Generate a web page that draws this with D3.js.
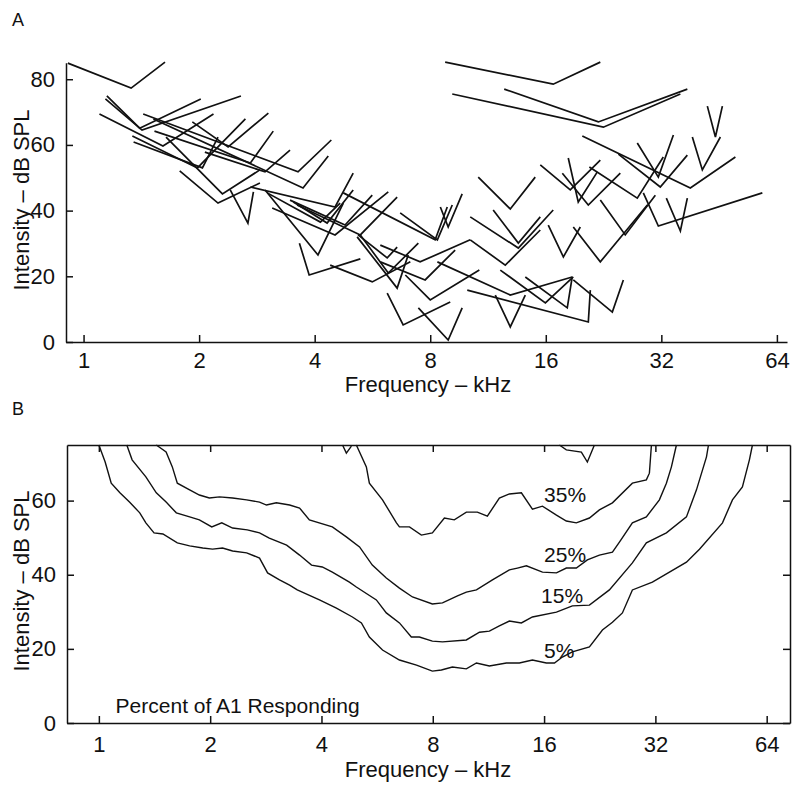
<!DOCTYPE html>
<html>
<head>
<meta charset="utf-8">
<script src="https://cdn.jsdelivr.net/npm/d3@7"></script>
<style>
  body { margin: 0; background: #fff; }
  text { font-family: "Liberation Sans", Arial, sans-serif; fill: #111; }
</style>
</head>
<body>
<div id="chart"></div>
<script>
// Panel A: single-unit tuning curves, each [left arm end, tip, right arm end] as [kHz, dB SPL]
const tuningCurves = [
  [[0.91,84.9],[1.33,77.3],[1.63,85.2]],
  [[1.15,74.9],[1.40,65.1],[2.02,74.0]],
  [[1.14,74.0],[1.42,64.5],[2.57,74.9]],
  [[1.10,69.4],[1.61,59.7],[2.18,69.4]],
  [[1.43,69.4],[3.62,51.8],[4.42,61.5]],
  [[1.52,67.9],[3.73,46.9],[4.34,56.6]],
  [[1.53,64.2],[2.72,54.5],[3.12,64.2]],
  [[1.34,62.7],[1.98,53.0],[2.64,67.9]],
  [[1.35,60.9],[2.04,53.0],[2.24,62.4]],
  [[1.64,62.4],[2.30,45.1],[2.88,52.4]],
  [[1.78,52.1],[2.24,42.3],[2.88,48.4]],
  [[2.41,46.3],[2.68,36.2],[2.77,45.7]],
  [[1.92,67.0],[2.38,59.4],[3.03,69.7]],
  [[2.07,57.8],[2.97,51.8],[3.45,58.4]],
  [[2.97,46.3],[4.08,26.5],[4.75,42.3]],
  [[3.65,30.1],[3.87,20.4],[5.26,25.3]],
  [[2.72,47.2],[4.52,41.1],[5.04,51.4]],
  [[3.52,42.6],[4.31,36.2],[5.04,46.3]],
  [[3.10,40.8],[4.52,32.6],[6.22,45.7]],
  [[3.45,43.2],[4.80,35.6],[5.65,44.7]],
  [[4.75,45.4],[8.24,31.1],[8.86,41.1]],
  [[3.60,41.7],[5.26,32.6],[6.56,44.1]],
  [[5.16,32.0],[6.56,16.4],[7.01,26.5]],
  [[5.26,32.6],[6.22,21.0],[7.45,30.1]],
  [[4.39,23.4],[5.65,18.3],[7.10,24.4]],
  [[5.93,24.4],[7.76,18.9],[9.29,28.0]],
  [[6.18,14.9],[6.80,5.2],[9.02,12.2]],
  [[7.45,10.4],[8.91,0.6],[9.69,10.4]],
  [[3.01,45.4],[4.14,36.5],[4.66,42.3]],
  [[5.19,32.6],[6.18,25.6],[6.56,28.9]],
  [[6.68,39.3],[8.35,31.1],[9.13,41.7]],
  [[8.50,41.1],[8.91,35.0],[9.69,45.1]],
  [[5.93,29.5],[7.53,24.4],[10.17,31.1]],
  [[6.89,20.4],[8.00,12.8],[10.74,21.9]],
  [[8.75,85.2],[16.73,78.5],[22.19,85.2]],
  [[12.47,77.0],[21.93,67.0],[37.4,77.0]],
  [[9.13,75.5],[22.6,65.4],[35.87,75.5]],
  [[19.92,62.7],[38.08,46.9],[49.9,56.3]],
  [[42.17,71.8],[44.26,62.4],[46.15,71.8]],
  [[38.54,62.4],[40.92,52.4],[45.6,62.4]],
  [[24.73,57.2],[31.8,47.2],[37.4,56.9]],
  [[27.7,60.6],[31.43,50.2],[34.4,63.0]],
  [[28.72,45.4],[31.43,35.3],[58.65,45.4]],
  [[32.97,43.8],[35.87,33.8],[37.4,43.8]],
  [[10.67,50.2],[12.93,40.5],[15.02,50.2]],
  [[15.48,53.9],[18.53,46.3],[22.19,55.4]],
  [[18.31,56.0],[19.44,42.6],[21.8,51.8]],
  [[17.67,51.4],[20.65,41.7],[25.02,51.4]],
  [[20.78,53.3],[27.7,43.8],[32.38,56.3]],
  [[22.19,43.2],[25.77,32.6],[30.87,44.7]],
  [[10.17,38.1],[13.57,28.6],[16.73,40.2]],
  [[11.67,40.2],[13.57,30.1],[15.48,38.1]],
  [[10.17,31.1],[12.55,23.4],[15.48,34.1]],
  [[12.18,21.9],[15.96,11.9],[18.87,19.8]],
  [[14.15,19.8],[18.2,10.4],[18.75,19.8]],
  [[11.82,14.3],[12.93,4.6],[14.15,14.3]],
  [[9.99,15.8],[20.65,6.1],[20.9,15.8]],
  [[18.87,18.9],[23.85,9.1],[25.48,18.9]],
  [[16.24,35.6],[17.78,25.9],[19.68,35.0]],
  [[18.87,35.0],[22.19,24.4],[29.42,41.7]],
  [[8.35,24.4],[12.93,14.3],[18.75,19.8]]
];

// Panel B: iso-percentage contours, [kHz, dB SPL]
const contour5 = [[1.00,75.0],[1.04,70.4],[1.08,64.7],[1.14,62.1],[1.21,59.6],[1.29,56.7],[1.34,54.0],[1.41,51.3],[1.49,51.0],[1.63,48.6],[1.76,47.8],[1.91,47.2],[2.03,46.9],[2.16,47.2],[2.30,46.4],[2.51,45.9],[2.72,44.5],[2.86,40.5],[3.08,38.6],[3.28,37.2],[3.44,35.9],[3.95,33.2],[4.39,31.0],[4.85,28.6],[5.13,27.0],[5.39,23.2],[5.85,19.7],[6.50,17.0],[7.23,15.6],[7.98,14.0],[8.44,14.3],[9.04,15.1],[9.86,14.6],[10.5,16.2],[11.38,15.4],[12.65,16.2],[13.72,16.2],[14.88,17.0],[16.23,16.2],[17.07,16.2],[17.93,17.8],[19.08,19.2],[21.22,20.5],[23.01,25.1],[24.49,27.2],[26.06,29.7],[27.73,35.9],[31.41,38.0],[38.83,43.4],[42.11,46.9],[48.6,54.0],[51.71,60.2],[55.02,63.7],[57.47,71.0],[58.57,75.0]];
const contour15 = [[1.19,75.0],[1.23,71.0],[1.34,66.4],[1.43,62.1],[1.52,59.6],[1.62,56.7],[1.76,55.6],[1.87,54.8],[2.02,52.9],[2.15,54.0],[2.30,52.6],[2.52,52.1],[2.72,51.3],[2.89,49.9],[3.22,48.0],[3.49,45.3],[3.76,42.6],[4.02,42.1],[4.28,40.7],[4.76,38.0],[4.97,36.7],[5.63,33.2],[5.99,29.7],[6.50,27.0],[7.00,23.2],[7.36,23.2],[7.98,22.1],[8.50,21.9],[9.86,22.4],[10.7,24.5],[11.38,24.8],[12.11,26.2],[12.89,27.5],[13.89,27.0],[14.88,28.6],[17.28,29.9],[19.08,31.6],[21.22,31.8],[24.03,35.9],[27.73,43.2],[30.25,48.6],[34.27,51.3],[38.83,55.6],[41.33,62.9],[43.99,71.8],[44.54,75.0]];
const contour25 = [[1.43,75.0],[1.52,73.1],[1.58,69.1],[1.63,64.7],[1.76,62.9],[1.87,61.5],[1.99,60.7],[2.12,61.0],[2.30,60.7],[2.51,60.2],[2.72,59.6],[2.84,58.8],[3.02,59.4],[3.28,58.8],[3.49,58.0],[3.71,54.8],[4.28,52.9],[4.67,50.2],[5.07,47.5],[5.49,42.6],[5.99,39.1],[6.50,36.4],[7.05,34.0],[7.98,32.1],[8.50,32.4],[9.33,34.3],[9.86,35.3],[10.5,35.9],[11.6,38.6],[12.89,41.3],[13.55,41.8],[14.33,42.4],[15.84,40.7],[17.28,40.5],[18.38,41.8],[19.56,41.8],[20.95,44.0],[22.58,45.3],[24.49,46.1],[25.58,48.8],[27.73,54.0],[30.25,55.6],[32.81,60.2],[34.27,64.7],[35.36,69.1],[36.48,75.0]];
const contour35 = [[4.97,75.0],[5.29,69.1],[5.39,64.7],[5.85,60.2],[6.38,54.0],[6.50,52.9],[6.92,52.9],[7.45,50.7],[7.98,51.3],[8.60,55.3],[9.15,54.8],[9.86,56.9],[10.56,56.9],[11.24,55.8],[12.11,60.7],[12.89,61.8],[13.89,62.1],[14.88,57.7],[15.84,58.5],[17.28,56.1],[18.38,54.5],[19.56,54.0],[21.22,55.3],[22.58,57.5],[24.49,59.4],[27.73,64.7],[30.25,65.6],[30.83,67.4],[31.22,75.0]];
const contour35bitA = [[4.56,75.0],[4.67,72.8],[4.82,74.7]];
const contour35bitB = [[17.6,75.0],[18.38,73.7],[20.18,73.1],[20.95,70.4],[21.89,75.0]];

const contourLabels = [
  { text: "35%", f: 16.0, db: 59.6 },
  { text: "25%", f: 16.0, db: 43.4 },
  { text: "15%", f: 15.7, db: 32.4 },
  { text: "5%",  f: 16.0, db: 17.5 }
];

const freqTicks = [1, 2, 4, 8, 16, 32, 64];
const levelTicksA = [0, 20, 40, 60, 80];
const levelTicksB = [0, 20, 40, 60];

const width = 800, height = 790;
const fontSize = "22px";

const svg = d3.select("#chart")
  .append("svg")
    .attr("width", width)
    .attr("height", height);

// ---------- Panel A ----------
const xA = d3.scaleLog().domain([0.9, 68]).range([66, 787]);
const yA = d3.scaleLinear().domain([0, 85]).range([342, 62.8]);

const gA = svg.append("g");

gA.append("g")
  .attr("transform", `translate(0,${yA(0)})`)
  .call(d3.axisBottom(xA).tickValues(freqTicks).tickFormat(d3.format("d"))
    .tickSize(-7).tickSizeOuter(0).tickPadding(10));

gA.append("g")
  .attr("transform", `translate(${xA.range()[0]},0)`)
  .call(d3.axisLeft(yA).tickValues(levelTicksA)
    .tickSize(-7).tickSizeOuter(0).tickPadding(11));

const line = d3.line()
  .x(d => xA(d[0]))
  .y(d => yA(d[1]));

gA.selectAll(".tc")
  .data(tuningCurves)
  .join("path")
    .attr("class", "tc")
    .attr("fill", "none")
    .attr("stroke", "#111")
    .attr("stroke-width", 1.7)
    .attr("d", line);

gA.append("text")
  .attr("x", 12).attr("y", 26)
  .style("font-size", "18px")
  .text("A");

gA.append("text")
  .attr("x", 428).attr("y", 392)
  .attr("text-anchor", "middle")
  .style("font-size", fontSize)
  .text("Frequency – kHz");

gA.append("text")
  .attr("transform", `translate(29,200) rotate(-90)`)
  .attr("text-anchor", "middle")
  .style("font-size", fontSize)
  .text("Intensity – dB SPL");

// ---------- Panel B ----------
const xB = d3.scaleLog().domain([0.82, 74]).range([67, 790]);
const yB = d3.scaleLinear().domain([0, 75]).range([723, 445]);

const gB = svg.append("g");

gB.append("g")
  .attr("transform", `translate(0,${yB(0)})`)
  .call(d3.axisBottom(xB).tickValues(freqTicks).tickFormat(d3.format("d"))
    .tickSize(-7).tickSizeOuter(0).tickPadding(13));

gB.append("g")
  .attr("transform", `translate(0,${yB(75)})`)
  .call(d3.axisTop(xB).tickValues(freqTicks).tickFormat("")
    .tickSize(-7).tickSizeOuter(0));

gB.append("g")
  .attr("transform", `translate(${xB.range()[0]},0)`)
  .call(d3.axisLeft(yB).tickValues(levelTicksB)
    .tickSize(-7).tickSizeOuter(0).tickPadding(11));

gB.append("g")
  .attr("transform", `translate(${xB.range()[1]},0)`)
  .call(d3.axisRight(yB).tickValues(levelTicksB).tickFormat("")
    .tickSize(-7).tickSizeOuter(0));

const lineB = d3.line()
  .x(d => xB(d[0]))
  .y(d => yB(d[1]));

const contours = [contour5, contour15, contour25, contour35, contour35bitA, contour35bitB];

gB.selectAll(".contour")
  .data(contours)
  .join("path")
    .attr("class", "contour")
    .attr("fill", "none")
    .attr("stroke", "#111")
    .attr("stroke-width", 1.4)
    .attr("d", lineB);

gB.selectAll(".clabel")
  .data(contourLabels)
  .join("text")
    .attr("class", "clabel")
    .attr("x", d => xB(d.f))
    .attr("y", d => yB(d.db))
    .style("font-size", "21px")
    .text(d => d.text);

gB.append("text")
  .attr("x", xB(1.11)).attr("y", 713)
  .style("font-size", "21px")
  .text("Percent of A1 Responding");

gB.append("text")
  .attr("x", 12).attr("y", 415)
  .style("font-size", "18px")
  .text("B");

gB.append("text")
  .attr("x", 428).attr("y", 777)
  .attr("text-anchor", "middle")
  .style("font-size", fontSize)
  .text("Frequency – kHz");

gB.append("text")
  .attr("transform", `translate(29,581) rotate(-90)`)
  .attr("text-anchor", "middle")
  .style("font-size", fontSize)
  .text("Intensity – dB SPL");

// axis styling
svg.selectAll(".domain, .tick line")
  .attr("stroke", "#111")
  .attr("stroke-width", 1.5);
svg.selectAll(".tick text")
  .style("font-size", fontSize)
  .attr("fill", "#111");
</script>
</body>
</html>
